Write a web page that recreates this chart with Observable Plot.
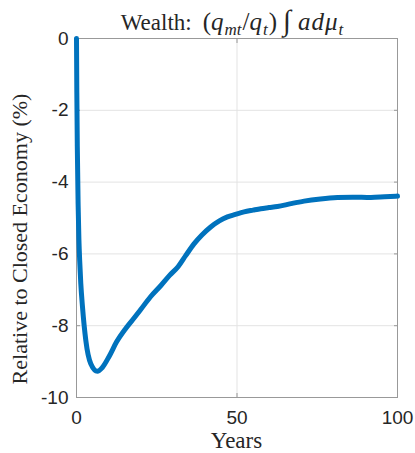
<!DOCTYPE html>
<html><head><meta charset="utf-8">
<script src="https://cdn.jsdelivr.net/npm/d3@7"></script>
<script src="https://cdn.jsdelivr.net/npm/@observablehq/plot@0.6"></script>
<style>
body{margin:0;background:#fff;}
#wrap{position:relative;width:415px;height:453px;overflow:hidden;background:#fff;}
#chart{position:absolute;left:0;top:0;}
.lbl{position:absolute;font-family:"Liberation Serif","Times New Roman",serif;font-size:22px;color:#262626;white-space:nowrap;line-height:1;}
#title{font-size:23px;}
#title .m{font-size:25px;}
#title sub{font-size:17px;vertical-align:-5px;line-height:0;}
#title .int{font-size:29px;margin:0 7px 0 6px;}
#title i{padding-right:1px;}
</style></head><body>
<div id="wrap">
<div id="chart"></div>
<div class="lbl" id="title">Wealth:<span style="display:inline-block;width:11px"></span><span class="m">(<i>q</i><sub><i>mt</i></sub>/<i>q</i><sub><i>t</i></sub>)<span class="int">∫</span><i>a</i><i>d</i><i>μ</i><sub><i>t</i></sub></span></div>
<div class="lbl" id="ylabel">Relative to Closed Economy (%)</div>
<div class="lbl" id="xlabel">Years</div>
</div>
<script>
const years = [0,0.1,0.25,0.5,0.75,1,1.34,1.87,2.9,4.45,6.5,8,10.2,12.5,15.4,18,20,23,26.3,29,31.7,34,36.6,39,41.8,44.5,47,49.5,52.2,55,57.4,60,62.6,66.8,70.9,76,81.3,86,91.7,96,100];
const values = [0,-1.5,-3.0,-4.6,-5.6,-6.2,-6.83,-7.48,-8.41,-9.06,-9.27,-9.17,-8.85,-8.45,-8.07,-7.78,-7.55,-7.2,-6.88,-6.6,-6.35,-6.05,-5.72,-5.48,-5.25,-5.08,-4.97,-4.9,-4.83,-4.78,-4.74,-4.71,-4.68,-4.6,-4.53,-4.47,-4.43,-4.42,-4.43,-4.41,-4.39];
const xTicks = [0,50,100];
const yTicks = [0,-2,-4,-6,-8,-10];

const data = years.map((t,i)=>({t, v: values[i]}));
const axisGray = "#999999";
const fmt = d => String(d);

const chart = Plot.plot({
  width: 415, height: 453,
  marginLeft: 76, marginRight: 18, marginTop: 38, marginBottom: 56,
  x: {domain: [0,100]},
  y: {domain: [-10,0]},
  style: {fontFamily: "'Liberation Sans', Arial, sans-serif", fontSize: "19px", color: "#262626", background: "white", overflow: "visible"},
  marks: [
    Plot.gridX({ticks: xTicks, stroke: "#e3e3e3", strokeOpacity: 1}),
    Plot.gridY({ticks: yTicks, stroke: "#e3e3e3", strokeOpacity: 1}),
    Plot.axisX({ticks: xTicks, tickSize: 0, tickPadding: 13, tickFormat: fmt, label: null}),
    Plot.axisY({ticks: yTicks, tickSize: 0, tickPadding: 8, tickFormat: fmt, label: null}),
    Plot.axisX({ticks: xTicks, anchor: "bottom", tickSize: -4, text: null, label: null, stroke: axisGray}),
    Plot.axisX({ticks: xTicks, anchor: "top", tickSize: -4, text: null, label: null, stroke: axisGray}),
    Plot.axisY({ticks: yTicks, anchor: "left", tickSize: -4, text: null, label: null, stroke: axisGray}),
    Plot.axisY({ticks: yTicks, anchor: "right", tickSize: -4, text: null, label: null, stroke: axisGray}),
    Plot.frame({stroke: axisGray}),
    Plot.line(data, {x: "t", y: "v", stroke: "#0072BD", strokeWidth: 5, curve: "monotone-x", strokeLinejoin: "round"})
  ]
});
document.getElementById("chart").appendChild(chart);

const cx = 76 + (415 - 76 - 18) / 2;
const t = document.getElementById("title");
t.style.left = (cx - 4) + "px"; t.style.top = "6px"; t.style.transform = "translateX(-50%)";
const xl = document.getElementById("xlabel");
xl.style.left = cx + "px"; xl.style.top = "429px"; xl.style.fontSize = "23px"; xl.style.transform = "translateX(-50%)";
const yl = document.getElementById("ylabel");
yl.style.left = "20px"; yl.style.top = "239px"; yl.style.transform = "translate(-50%,-50%) rotate(-90deg)";
</script>
</body></html>
